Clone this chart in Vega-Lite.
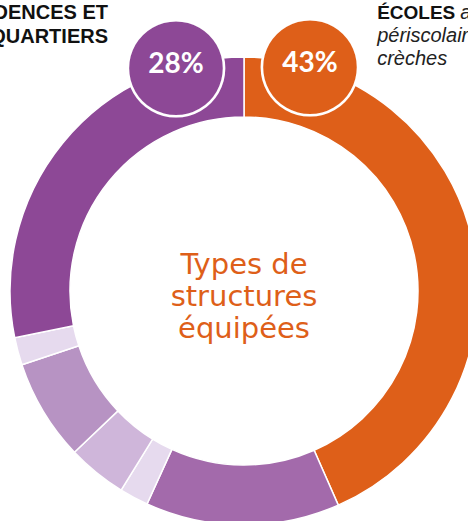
{
  "$schema": "https://vega.github.io/schema/vega-lite/v6.json",
  "width": 488,
  "height": 582,
  "autosize": {"type": "none"},
  "padding": {"left": 0, "top": 0, "right": -20, "bottom": -61},
  "background": "white",
  "view": {"stroke": null},
  "datasets": {
    "slices": [
      {"type": "Écoles, accueils périscolaires et crèches", "share": 43.4, "rank": 1},
      {"type": "Équipements sportifs", "share": 13.4, "rank": 2},
      {"type": "Équipements de santé", "share": 2.0, "rank": 3},
      {"type": "Équipements culturels", "share": 4.1, "rank": 4},
      {"type": "Bâtiments administratifs", "share": 7.0, "rank": 5},
      {"type": "Autres", "share": 1.9, "rank": 6},
      {"type": "Résidences et quartiers", "share": 28.2, "rank": 7}
    ],
    "badges": [
      {"type": "Écoles, accueils périscolaires et crèches", "label": "43%", "pos": 4.45},
      {"type": "Résidences et quartiers", "label": "28%", "pos": 95.4}
    ],
    "leftTitle": [{"text": "RÉSIDENCES ET\nQUARTIERS", "pos": 92.62}],
    "rightTitle": [{"text": "ÉCOLES", "more": "accueils", "rest": "\npériscolaires et\ncrèches", "pos": 7.24}],
    "center": [{"text": "Types de\nstructures\néquipées"}]
  },
  "layer": [
    {
      "data": {"name": "slices"},
      "mark": {"type": "arc", "outerRadius": 234, "innerRadius": 174, "stroke": "white", "strokeWidth": 1.5},
      "encoding": {
        "theta": {"field": "share", "type": "quantitative", "stack": true, "scale": {"domain": [0, 100]}},
        "color": {
          "field": "type", "type": "nominal", "legend": null,
          "scale": {
            "domain": ["Écoles, accueils périscolaires et crèches", "Équipements sportifs", "Équipements de santé", "Équipements culturels", "Bâtiments administratifs", "Autres", "Résidences et quartiers"],
            "range": ["#DE5F19", "#A36AAB", "#E6DAEE", "#CFB6DA", "#B793C3", "#E6DAEE", "#8D4896"]
          }
        },
        "order": {"field": "rank", "type": "quantitative"}
      }
    },
    {
      "data": {"name": "badges"},
      "mark": {"type": "text", "text": "●", "font": "DejaVu Sans", "fontSize": 126, "radius": 239, "dy": 1, "align": "center", "baseline": "middle", "stroke": "white", "strokeWidth": 2.5},
      "encoding": {
        "theta": {"field": "pos", "type": "quantitative", "stack": null},
        "color": {"field": "type", "type": "nominal", "legend": null}
      }
    },
    {
      "data": {"name": "badges"},
      "mark": {"type": "text", "font": "Lato", "fontWeight": "bold", "fontSize": 28, "radius": 239, "dy": 3, "align": "center", "baseline": "middle", "fill": "white"},
      "encoding": {
        "theta": {"field": "pos", "type": "quantitative", "stack": null},
        "text": {"field": "label"}
      }
    },
    {
      "data": {"name": "leftTitle"},
      "mark": {"type": "text", "font": "Liberation Sans", "fontWeight": "bold", "fontSize": 20, "lineHeight": 24, "lineBreak": "\n", "radius": 304, "align": "right", "baseline": "alphabetic", "fill": "#111111"},
      "encoding": {
        "theta": {"field": "pos", "type": "quantitative", "stack": null},
        "text": {"field": "text"}
      }
    },
    {
      "data": {"name": "rightTitle"},
      "mark": {"type": "text", "font": "Liberation Sans", "fontWeight": "bold", "fontSize": 19, "radius": 303, "align": "left", "baseline": "alphabetic", "fill": "#111111"},
      "encoding": {
        "theta": {"field": "pos", "type": "quantitative", "stack": null},
        "text": {"field": "text"}
      }
    },
    {
      "data": {"name": "rightTitle"},
      "mark": {"type": "text", "font": "Liberation Sans", "fontStyle": "italic", "fontSize": 20, "radius": 303, "dx": 83, "align": "left", "baseline": "alphabetic", "fill": "#222222"},
      "encoding": {
        "theta": {"field": "pos", "type": "quantitative", "stack": null},
        "text": {"field": "more"}
      }
    },
    {
      "data": {"name": "rightTitle"},
      "mark": {"type": "text", "font": "Liberation Sans", "fontStyle": "italic", "fontSize": 20, "lineHeight": 23, "lineBreak": "\n", "radius": 303, "align": "left", "baseline": "alphabetic", "fill": "#222222"},
      "encoding": {
        "theta": {"field": "pos", "type": "quantitative", "stack": null},
        "text": {"field": "rest"}
      }
    },
    {
      "data": {"name": "center"},
      "mark": {"type": "text", "font": "DejaVu Sans", "fontWeight": "normal", "fontSize": 29, "lineHeight": 32, "lineBreak": "\n", "align": "center", "baseline": "middle", "dy": -26, "fill": "#DE5F19"},
      "encoding": {
        "text": {"field": "text"}
      }
    }
  ]
}
